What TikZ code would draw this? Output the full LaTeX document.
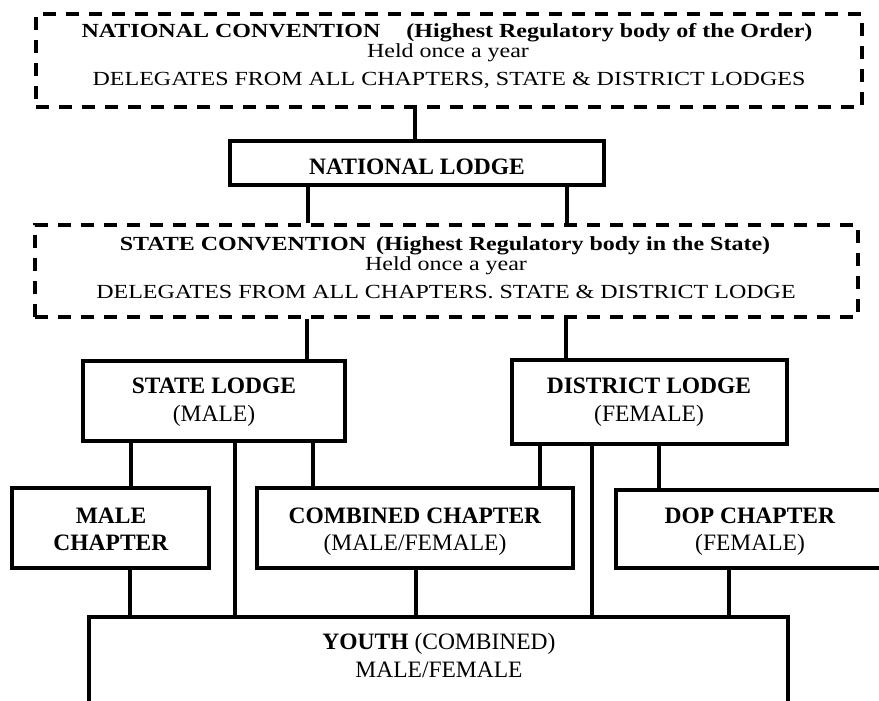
\documentclass[tikz,border=0pt]{standalone}
\usepackage{fontspec}
\setmainfont{Liberation Serif}
\newfontfamily\convfont{Liberation Serif}[FakeStretch=1.2]
\begin{document}
\begin{tikzpicture}[x=1pt,y=-1pt,
  box/.style={draw=black,line width=4pt,inner sep=0pt,minimum width=#1},
  dbox/.style={draw=black,line width=4pt,dash pattern=on 13pt off 10pt,inner sep=0pt},
  txt/.style={anchor=base,inner sep=0pt,font=\fontsize{23.5}{28}\selectfont},
  ctxt/.style={anchor=base,inner sep=0pt,font=\convfont\fontsize{20}{24}\selectfont},
  conn/.style={draw=black,line width=4pt}]
\useasboundingbox (0,0) rectangle (879,701);
% boxes
\node[dbox,minimum width=826pt,minimum height=93pt] (natconv) at (449,60.5) {};
\node[box=374pt,minimum height=44pt] (natlodge) at (417,163) {};
\node[dbox,minimum width=823pt,minimum height=92pt] (stconv) at (446.5,271) {};
\node[box=262pt,minimum height=80pt] (stlodge) at (214,401) {};
\node[box=275pt,minimum height=84pt] (dlodge) at (649.5,402) {};
\node[box=197pt,minimum height=80pt] (malech) at (110.5,528) {};
\node[box=316pt,minimum height=80pt] (combch) at (415,528) {};
\node[box=268pt,minimum height=78pt] (dopch) at (750,529) {};
\node[box=699pt,minimum height=160pt] (youth) at (438.5,697) {};
% texts
\node[ctxt] (t1) at (447,38) {\textbf{NATIONAL CONVENTION}\hspace{26pt}\textbf{(Highest Regulatory body of the Order)}};
\node[ctxt] (t2) at (448,58) {Held once a year};
\node[ctxt] (t3) at (449,85) {DELEGATES FROM ALL CHAPTERS, STATE \& DISTRICT LODGES};
\node[txt] (t4) at (417,174) {\textbf{NATIONAL LODGE}};
\node[ctxt] (t5) at (445,250) {\textbf{STATE CONVENTION}\hspace{10pt}\textbf{(Highest Regulatory body in the State)}};
\node[ctxt] (t6) at (446,270) {Held once a year};
\node[ctxt] (t7) at (446,298) {DELEGATES FROM ALL CHAPTERS. STATE \& DISTRICT LODGE};
\node[txt] (t8) at (214,393) {\textbf{STATE LODGE}};
\node[txt] (t9) at (214,421) {(MALE)};
\node[txt] (t10) at (649,393) {\textbf{DISTRICT LODGE}};
\node[txt] (t11) at (649,421) {(FEMALE)};
\node[txt] (t12) at (111,523) {\textbf{MALE}};
\node[txt] (t13) at (111,550) {\textbf{CHAPTER}};
\node[txt] (t14) at (415,523) {\textbf{COMBINED CHAPTER}};
\node[txt] (t15) at (415,550) {(MALE/FEMALE)};
\node[txt] (t16) at (750,523) {\textbf{DOP CHAPTER}};
\node[txt] (t17) at (750,550) {(FEMALE)};
\node[txt] (t18) at (439,649) {\textbf{YOUTH} (COMBINED)};
\node[txt] (t19) at (439,677) {MALE/FEMALE};
% x positions of connectors
\coordinate (a) at (415,0);
\coordinate (b1) at (308,0);
\coordinate (b2) at (567,0);
\coordinate (c1) at (307,0);
\coordinate (c2) at (566,0);
\coordinate (d1) at (131,0);
\coordinate (d2) at (235,0);
\coordinate (d3) at (313,0);
\coordinate (e1) at (540,0);
\coordinate (e2) at (592,0);
\coordinate (e3) at (659,0);
\coordinate (f1) at (130,0);
\coordinate (f2) at (416,0);
\coordinate (f3) at (729,0);
% connectors
\draw[conn] (natconv.south -| a) -- (natlodge.north -| a);
\draw[conn] (natlodge.south -| b1) -- (stconv.north -| b1);
\draw[conn] (natlodge.south -| b2) -- (stconv.north -| b2);
\draw[conn] (stconv.south -| c1) -- (stlodge.north -| c1);
\draw[conn] (stconv.south -| c2) -- (dlodge.north -| c2);
\draw[conn] (stlodge.south -| d1) -- (malech.north -| d1);
\draw[conn] (stlodge.south -| d2) -- (youth.north -| d2);
\draw[conn] (stlodge.south -| d3) -- (combch.north -| d3);
\draw[conn] (dlodge.south -| e1) -- (combch.north -| e1);
\draw[conn] (dlodge.south -| e2) -- (youth.north -| e2);
\draw[conn] (dlodge.south -| e3) -- (dopch.north -| e3);
\draw[conn] (malech.south -| f1) -- (youth.north -| f1);
\draw[conn] (combch.south -| f2) -- (youth.north -| f2);
\draw[conn] (dopch.south -| f3) -- (youth.north -| f3);
\end{tikzpicture}
\end{document}
